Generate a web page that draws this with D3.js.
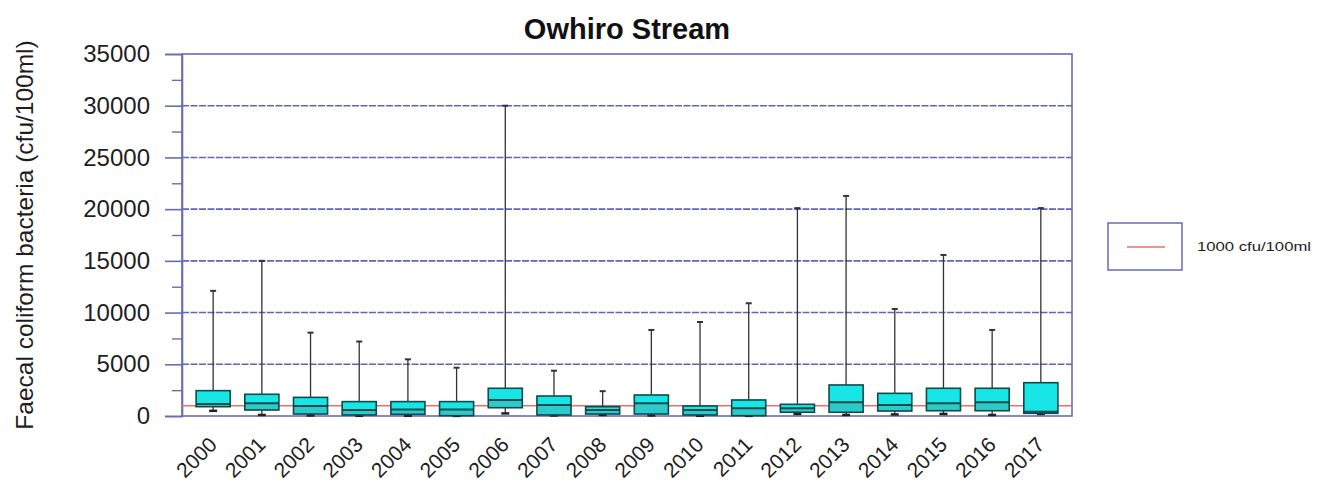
<!DOCTYPE html>
<html>
<head>
<meta charset="utf-8">
<script src="https://cdn.jsdelivr.net/npm/d3@7"></script>
<style>
  html, body { margin: 0; padding: 0; background: #ffffff; }
  svg { display: block; font-family: Arial, "Liberation Sans", sans-serif; }
</style>
</head>
<body>
<svg id="chart" width="1327" height="486"></svg>
<script>
// Annual faecal coliform box plots, Owhiro Stream
const years = ["2000","2001","2002","2003","2004","2005","2006","2007","2008",
               "2009","2010","2011","2012","2013","2014","2015","2016","2017"];
const whiskerMax = [12100,15000,8060,7200,5480,4670,30000,4380,2400,
                    8320,9090,10900,20100,21280,10350,15570,8320,20100];
const q3        = [2450,2100,1800,1390,1390,1390,2680,1930,900,
                   2030,970,1550,1130,3000,2190,2680,2680,3220];
const median    = [1150,1230,970,580,640,640,1550,1060,580,
                   1230,580,740,740,1320,1060,1230,1320,420];
const q1        = [900,580,190,100,160,30,800,100,190,
                   190,100,30,360,360,480,510,510,260];
const whiskerMin = [500,100,50,20,20,10,250,50,100,
                    50,20,10,200,100,150,200,100,200];
const yTicks = [0,5000,10000,15000,20000,25000,30000,35000];
const guideline = 1000;
const guidelineLabel = "1000 cfu/100ml";

const rows = years.map((y, i) => ({
  year: y, max: whiskerMax[i], q3: q3[i], med: median[i], q1: q1[i], min: whiskerMin[i]
}));

const svg = d3.select("#chart");
const plot = { left: 182, right: 1072, top: 54, bottom: 416 };

const x = d3.scaleBand().domain(years)
  .range([plot.left, plot.right]).paddingInner(0.3).paddingOuter(0.29);
const y = d3.scaleLinear().domain([0, 35000]).range([plot.bottom, plot.top]);

const frameColor = "#6a6ab8";
const textColor = "#1e1e1e";

// horizontal grid
svg.append("g").selectAll("line").data(yTicks.filter(d => d > 0 && d < 35000)).join("line")
  .attr("x1", plot.left).attr("x2", plot.right)
  .attr("y1", d => y(d)).attr("y2", d => y(d))
  .attr("stroke", "#6464b0").attr("stroke-width", 1.6)
  .attr("stroke-dasharray", "7,1.5");

// plot frame
svg.append("rect")
  .attr("x", plot.left).attr("y", plot.top)
  .attr("width", plot.right - plot.left).attr("height", plot.bottom - plot.top)
  .attr("fill", "none").attr("stroke", frameColor).attr("stroke-width", 1.6);

// minor y ticks
svg.append("g").attr("transform", `translate(${plot.left},0)`)
  .call(d3.axisLeft(y).tickValues(d3.range(2500, 35000, 5000)).tickSize(10).tickFormat(""))
  .call(g => g.select(".domain").remove())
  .call(g => g.selectAll("line").attr("stroke", frameColor).attr("stroke-width", 1.4));

// major y axis
svg.append("g").attr("transform", `translate(${plot.left},0)`)
  .call(d3.axisLeft(y).tickValues(yTicks).tickSize(17).tickPadding(15).tickFormat(d3.format("d")))
  .call(g => g.select(".domain").attr("stroke", frameColor).attr("stroke-width", 1.6))
  .call(g => g.selectAll("line").attr("stroke", frameColor).attr("stroke-width", 1.6))
  .call(g => g.selectAll("text").attr("font-size", 24).attr("fill", textColor)
    .attr("font-family", "Arial, 'Liberation Sans', sans-serif"));

// x labels, rotated
svg.append("g").selectAll("text").data(years).join("text")
  .attr("transform", d => `translate(${x(d) + x.bandwidth() / 2 + 5},446) rotate(-45)`)
  .attr("text-anchor", "end")
  .attr("font-size", 21).attr("fill", textColor)
  .text(d => d);

// 1000 cfu guideline
svg.append("line")
  .attr("x1", plot.left).attr("x2", plot.right)
  .attr("y1", y(guideline)).attr("y2", y(guideline))
  .attr("stroke", "#e8706a").attr("stroke-width", 1.5);

// boxes
const bw = x.bandwidth();
const boxes = svg.append("g").selectAll("g").data(rows).join("g")
  .attr("transform", d => `translate(${x(d.year) + bw / 2},0)`);

boxes.append("line")
  .attr("y1", d => y(d.max)).attr("y2", d => y(d.q3))
  .attr("stroke", "#333").attr("stroke-width", 1.3);
boxes.append("line")
  .attr("y1", d => y(d.q1)).attr("y2", d => y(d.min))
  .attr("stroke", "#333").attr("stroke-width", 1.3);
boxes.append("line")
  .attr("x1", -3).attr("x2", 3)
  .attr("y1", d => y(d.max)).attr("y2", d => y(d.max))
  .attr("stroke", "#333").attr("stroke-width", 2);
boxes.append("line")
  .attr("x1", -4).attr("x2", 4)
  .attr("y1", d => y(d.min)).attr("y2", d => y(d.min))
  .attr("stroke", "#222").attr("stroke-width", 2.5);
// upper half (median to Q3) and lower half (Q1 to median)
boxes.append("rect")
  .attr("x", -bw / 2).attr("width", bw)
  .attr("y", d => y(d.q3)).attr("height", d => y(d.med) - y(d.q3))
  .attr("fill", "#18e6e6");
boxes.append("rect")
  .attr("x", -bw / 2).attr("width", bw)
  .attr("y", d => y(d.med)).attr("height", d => y(d.q1) - y(d.med))
  .attr("fill", "#2ccaca");
boxes.append("rect")
  .attr("x", -bw / 2).attr("width", bw)
  .attr("y", d => y(d.q3)).attr("height", d => y(d.q1) - y(d.q3))
  .attr("fill", "none").attr("stroke", "#0d4a4a").attr("stroke-width", 1.6);
boxes.append("line")
  .attr("x1", -bw / 2).attr("x2", bw / 2)
  .attr("y1", d => y(d.med)).attr("y2", d => y(d.med))
  .attr("stroke", "#0d4a4a").attr("stroke-width", 2);

// title
svg.append("text")
  .attr("x", 627).attr("y", 39).attr("text-anchor", "middle")
  .attr("font-size", 29).attr("font-weight", "bold").attr("fill", "#111")
  .text("Owhiro Stream");

// y axis title
svg.append("text")
  .attr("transform", "translate(33,235) rotate(-90)")
  .attr("text-anchor", "middle")
  .attr("font-size", 24.5).attr("fill", textColor)
  .text("Faecal coliform bacteria (cfu/100ml)");

// legend
const lg = svg.append("g");
lg.append("rect").attr("x", 1108).attr("y", 223).attr("width", 74).attr("height", 47)
  .attr("fill", "#fff").attr("stroke", frameColor).attr("stroke-width", 1.5);
lg.append("line").attr("x1", 1127).attr("x2", 1165).attr("y1", 247).attr("y2", 247)
  .attr("stroke", "#e8706a").attr("stroke-width", 1.5);
lg.append("text").attr("x", 1197).attr("y", 251)
  .attr("font-size", 12).attr("fill", textColor)
  .attr("textLength", 114).attr("lengthAdjust", "spacingAndGlyphs")
  .text(guidelineLabel);
</script>
</body>
</html>
